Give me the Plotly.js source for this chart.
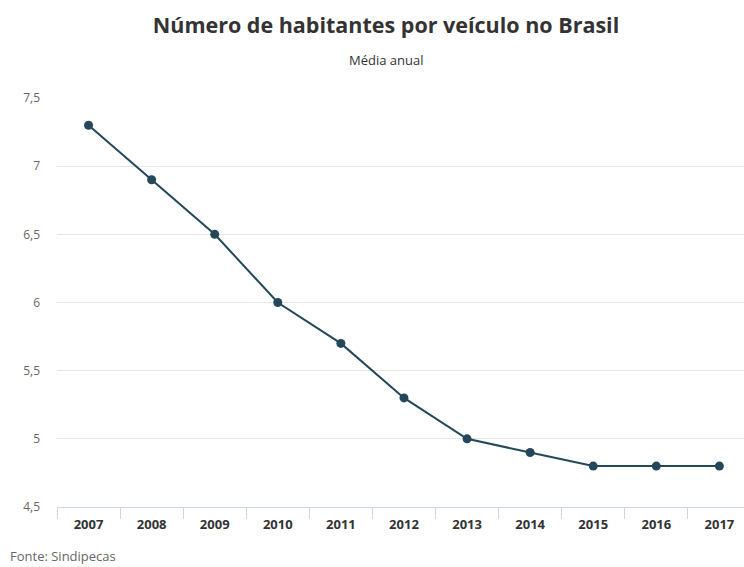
<!DOCTYPE html>
<html>
<head>
<meta charset="utf-8">
<script src="https://cdn.plot.ly/plotly-3.0.1.min.js"></script>
<style>html,body{margin:0;padding:0;background:#fff;}#chart{width:744px;height:567px;}</style>
</head>
<body>
<div id="chart"></div>
<script>
const years = ["2007","2008","2009","2010","2011","2012","2013","2014","2015","2016","2017"];
const habitantes = [7.3, 6.9, 6.5, 6.0, 5.7, 5.3, 5.0, 4.9, 4.8, 4.8, 4.8];
const yTicks = [4.5, 5, 5.5, 6, 6.5, 7, 7.5];

const trace = {
  type: "scatter",
  mode: "lines+markers",
  x: years,
  y: habitantes,
  line: {color: "#24475a", width: 2},
  marker: {color: "#24475a", size: 9},
  hoverinfo: "x+y"
};

const plotH = 567 - 98 - 60;
const plotW = 744 - 57;

const layout = {
  width: 744, height: 567,
  margin: {l: 57, r: 0, t: 98, b: 60},
  paper_bgcolor: "#ffffff",
  plot_bgcolor: "#ffffff",
  separators: ",.",
  showlegend: false,
  font: {family: "Open Sans, sans-serif"},
  title: {
    text: "<b>Número de habitantes por veículo no Brasil</b>",
    font: {family: "Open Sans, sans-serif", size: 21.5, color: "#333333"},
    x: 386/744, xref: "container", xanchor: "center",
    y: 1 - 25/567, yref: "container", yanchor: "middle"
  },
  xaxis: {
    type: "category",
    range: [-0.5, 10.39],
    tickson: "boundaries",
    ticks: "outside",
    ticklen: 11,
    tickcolor: "#ccd6eb",
    tickwidth: 1,
    ticklabelstandoff: 5,
    showline: true,
    linecolor: "#ccd6eb",
    linewidth: 1,
    showgrid: false,
    zeroline: false,
    tickfont: {family: "Open Sans, sans-serif", size: 13, color: "#333333", weight: "bold"},
    fixedrange: true
  },
  yaxis: {
    range: [4.5, 7.5],
    tickvals: yTicks,
    showgrid: true,
    gridcolor: "#e6e6e6",
    gridwidth: 1,
    zeroline: false,
    showline: false,
    ticks: "",
    ticklabelstandoff: 16,
    tickfont: {family: "Open Sans, sans-serif", size: 12, color: "#666666"},
    fixedrange: true
  },
  annotations: [
    {
      text: "Média anual",
      xref: "paper", yref: "paper",
      x: (386 - 57)/plotW, y: 1 + (98 - 60)/plotH,
      xanchor: "center", yanchor: "middle",
      showarrow: false,
      font: {family: "Open Sans, sans-serif", size: 13, color: "#333333"}
    },
    {
      text: "Fonte: Sindipecas",
      xref: "paper", yref: "paper",
      x: (8 - 57)/plotW, y: -(556 - 507)/plotH,
      xanchor: "left", yanchor: "middle",
      showarrow: false,
      font: {family: "Open Sans, sans-serif", size: 13, color: "#666666"}
    }
  ]
};

Plotly.newPlot("chart", [trace], layout, {displayModeBar: false});
</script>
</body>
</html>
